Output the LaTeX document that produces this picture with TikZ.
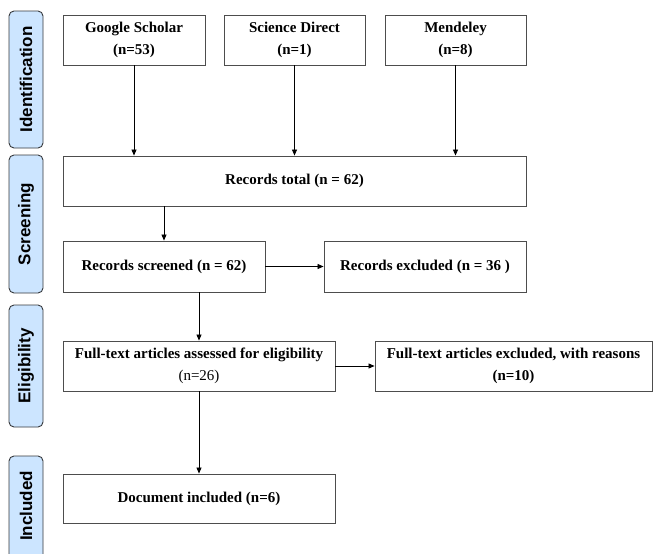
\documentclass[tikz,border=0pt]{standalone}
\usepackage{fontspec}
\setmainfont{Liberation Serif}
\newfontfamily\lblfont{Liberation Sans}
\usetikzlibrary{arrows.meta}
\definecolor{lblfill}{HTML}{CCE5FF}
\definecolor{lbldraw}{HTML}{36393D}
\definecolor{boxdraw}{HTML}{4D4D4D}
\begin{document}
\begin{tikzpicture}[x=1pt,y=-1pt,
  box/.style={draw=boxdraw, line width=0.9pt, fill=white, rectangle, minimum height=50pt, align=center, inner sep=1pt, font=\fontsize{15}{22}\selectfont\bfseries},
  phase/.style={draw=lbldraw, line width=0.9pt, fill=lblfill, rounded corners=5pt, minimum width=34pt, align=center},
  phasetext/.style={rotate=90, font=\lblfont\fontsize{17}{20}\selectfont\bfseries},
  arr/.style={-{Triangle[length=6pt,width=5pt]}, line width=0.8pt, black}]
\clip (0,0) rectangle (654,554);
\fill[white] (0,0) rectangle (654,554);

% phase labels
\node[phase, minimum height=137pt] (pid) at (26,79.5) {};
\node[phasetext] (tid) at (pid.center) {Identification};
\node[phase, minimum height=138pt] (psc) at (26,224) {};
\node[phasetext] (tsc) at (psc.center) {Screening};
\node[phase, minimum height=122pt] (pel) at (26,366) {};
\node[phasetext] (tel) at (pel.center) {Eligibility};
\node[phase, minimum height=134pt] (pin) at (26,523) {};
\node[phasetext] (tin) at (26,506) {Included};

% boxes
\node[box, minimum width=142pt] (gs) at (134,40) {Google Scholar\\(n=53)};
\node[box, minimum width=141pt] (sd) at (294.5,40) {Science Direct\\(n=1)};
\node[box, minimum width=141pt] (md) at (455.5,40) {Mendeley\\(n=8)};
\node[box, minimum width=463pt] (tot) at (294.5,181) {Records total (n = 62)};
\node[box, minimum width=202pt, minimum height=51pt] (scr) at (164,266.5) {Records screened (n = 62)};
\node[box, minimum width=202pt, minimum height=51pt] (exc) at (425,266.5) {Records excluded (n = 36 )};
\node[box, minimum width=272pt] (ft) at (199,366) {Full-text articles assessed for eligibility\\{\mdseries (n=26)}};
\node[box, minimum width=277pt] (fte) at (513.5,366) {Full-text articles excluded, with reasons\\(n=10)};
\node[box, minimum width=272pt, minimum height=49pt] (inc) at (199,498.5) {Document included (n=6)};

% arrows
\draw[arr] (gs.south) -- (gs.south |- tot.north);
\draw[arr] (sd.south) -- (sd.south |- tot.north);
\draw[arr] (md.south) -- (md.south |- tot.north);
\draw[arr] (scr.north |- tot.south) -- (scr.north);
\draw[arr] (scr.east) -- (exc.west);
\draw[arr] (ft.north |- scr.south) -- (ft.north);
\draw[arr] (ft.east) -- (fte.west);
\draw[arr] (ft.south) -- (inc.north);
\end{tikzpicture}
\end{document}
